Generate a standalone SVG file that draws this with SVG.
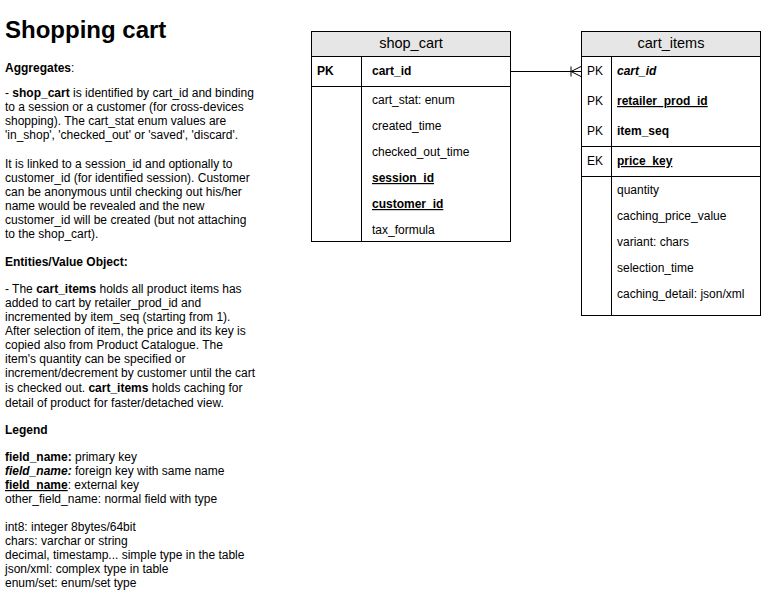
<svg xmlns="http://www.w3.org/2000/svg" width="761" height="601" viewBox="0 0 761 601">
<style>
text{font-family:"Liberation Sans",Arial,sans-serif;font-size:12px;fill:#000}
.t{font-size:24px;font-weight:bold}
.b{font-weight:bold}
.u{text-decoration:underline}
.i{font-style:italic}
.h{font-size:14.5px;text-anchor:middle}
.box{fill:#fff;stroke:#000;stroke-width:1}
.hd{fill:#e6e6e6;stroke:#000;stroke-width:1}
.ln{stroke:#000;stroke-width:1;fill:none}
</style>
<defs>
<marker id="many" markerWidth="12" markerHeight="12" refX="11" refY="6" orient="auto" markerUnits="userSpaceOnUse">
<path d="M1,1 L1,11 M1,6 L11,1 M1,6 L11,11" fill="none" stroke="#000" stroke-width="1"/>
</marker>
</defs>
<rect width="761" height="601" fill="#fff"/>
<g id="notes">
<text class="t" x="5" y="38">Shopping cart</text>
<text x="5" y="72"><tspan class="b">Aggregates</tspan>:</text>
<text x="5" y="97">- <tspan class="b">shop_cart</tspan> is identified by cart_id and binding</text>
<text x="5" y="111">to a session or a customer (for cross-devices</text>
<text x="5" y="125">shopping). The cart_stat enum values are</text>
<text x="5" y="139">'in_shop', 'checked_out' or 'saved', 'discard'.</text>
<text x="5" y="168">It is linked to a session_id and optionally to</text>
<text x="5" y="182">customer_id (for identified session). Customer</text>
<text x="5" y="196">can be anonymous until checking out his/her</text>
<text x="5" y="210">name would be revealed and the new</text>
<text x="5" y="224">customer_id will be created (but not attaching</text>
<text x="5" y="238">to the shop_cart).</text>
<text x="5" y="266" class="b">Entities/Value Object:</text>
<text x="5" y="293">- The <tspan class="b">cart_items</tspan> holds all product items has</text>
<text x="5" y="307">added to cart by retailer_prod_id and</text>
<text x="5" y="321">incremented by item_seq (starting from 1).</text>
<text x="5" y="335">After selection of item, the price and its key is</text>
<text x="5" y="349">copied also from Product Catalogue. The</text>
<text x="5" y="363">item's quantity can be specified or</text>
<text x="5" y="377">increment/decrement by customer until the cart</text>
<text x="5" y="392">is checked out. <tspan class="b">cart_items</tspan> holds caching for</text>
<text x="5" y="407">detail of product for faster/detached view.</text>
<text x="5" y="434" class="b">Legend</text>
<text x="5" y="461"><tspan class="b">field_name:</tspan> primary key</text>
<text x="5" y="475"><tspan class="b i">field_name:</tspan> foreign key with same name</text>
<text x="5" y="489"><tspan class="b u">field_name</tspan>: external key</text>
<text x="5" y="503">other_field_name: normal field with type</text>
<text x="5" y="531">int8: integer 8bytes/64bit</text>
<text x="5" y="545">chars: varchar or string</text>
<text x="5" y="559">decimal, timestamp... simple type in the table</text>
<text x="5" y="573">json/xml: complex type in table</text>
<text x="5" y="587">enum/set: enum/set type</text>
</g>
<g id="shop_cart">
<rect class="box" x="311.5" y="31.5" width="199" height="210"/>
<rect class="hd" x="311.5" y="31.5" width="199" height="25"/>
<line class="ln" x1="311.5" y1="86.5" x2="510.5" y2="86.5"/>
<line class="ln" x1="361.5" y1="56.5" x2="361.5" y2="241.5"/>
<text class="h" x="411" y="48">shop_cart</text>
<text class="b" x="317" y="75">PK</text>
<text class="b" x="372" y="75">cart_id</text>
<text x="372" y="104">cart_stat: enum</text>
<text x="372" y="130">created_time</text>
<text x="372" y="156">checked_out_time</text>
<text class="b u" x="372" y="182">session_id</text>
<text class="b u" x="372" y="208">customer_id</text>
<text x="372" y="234">tax_formula</text>
</g>
<g id="cart_items">
<rect class="box" x="581.5" y="31.5" width="179" height="284"/>
<rect class="hd" x="581.5" y="31.5" width="179" height="25"/>
<line class="ln" x1="581.5" y1="146.5" x2="760.5" y2="146.5"/>
<line class="ln" x1="581.5" y1="176.5" x2="760.5" y2="176.5"/>
<line class="ln" x1="611.5" y1="56.5" x2="611.5" y2="315.5"/>
<text class="h" x="671" y="48">cart_items</text>
<text x="587" y="75">PK</text>
<text class="b i" x="617" y="75">cart_id</text>
<text x="587" y="105">PK</text>
<text class="b u" x="617" y="105">retailer_prod_id</text>
<text x="587" y="135">PK</text>
<text class="b" x="617" y="135">item_seq</text>
<text x="587" y="165">EK</text>
<text class="b u" x="617" y="165">price_key</text>
<text x="617" y="194">quantity</text>
<text x="617" y="220">caching_price_value</text>
<text x="617" y="246">variant: chars</text>
<text x="617" y="272">selection_time</text>
<text x="617" y="298">caching_detail: json/xml</text>
</g>
<g id="connectors">
<line class="ln" x1="511" y1="71.5" x2="581" y2="71.5" marker-end="url(#many)"/>
</g>
</svg>
